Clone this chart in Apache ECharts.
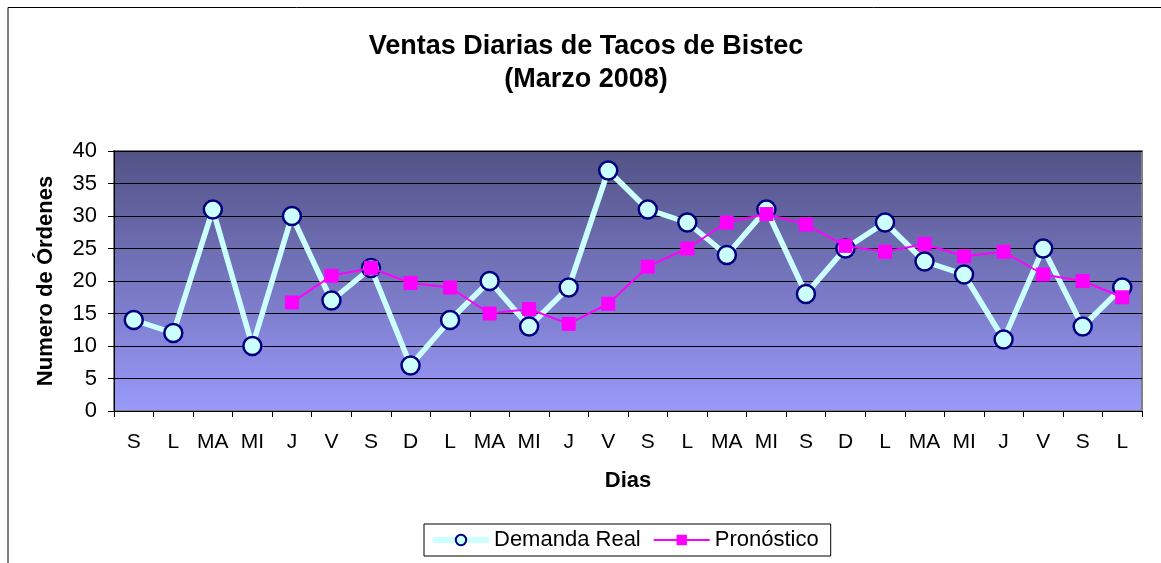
<!DOCTYPE html>
<html>
<head>
<meta charset="utf-8">
<script src="https://cdn.jsdelivr.net/npm/echarts@6/dist/echarts.min.js"></script>
<style>
	html, body { margin: 0; padding: 0; background: #fff; }
	#chart { width: 1161px; height: 563px; }
</style>
</head>
<body>
<div id="chart"></div>
<script>
// dias de marzo 2008
var dias = ['S', 'L', 'MA', 'MI', 'J', 'V', 'S', 'D', 'L', 'MA', 'MI', 'J', 'V', 'S', 'L', 'MA', 'MI', 'S', 'D', 'L', 'MA', 'MI', 'J', 'V', 'S', 'L'];
var demandaReal = [14, 12, 31, 10, 30, 17, 22, 7, 14, 20, 13, 19, 37, 31, 29, 24, 31, 18, 25, 29, 23, 21, 11, 25, 13, 19];
var pronostico = ['-', '-', '-', '-', 16.7, 20.8, 22, 19.7, 19, 15, 15.7, 13.4, 16.5, 22.2, 25, 29, 30.3, 28.7, 25.4, 24.5, 25.7, 23.8, 24.5, 21, 20, 17.5];
var yTicks = [0, 5, 10, 15, 20, 25, 30, 35, 40];

var fuente = '"Liberation Sans", Arial, sans-serif';
var chart = echarts.init(document.getElementById('chart'));

var option = {
	backgroundColor: '#fff',
	textStyle: { fontFamily: fuente },
	title: {
		text: 'Ventas Diarias de Tacos de Bistec\n(Marzo 2008)',
		left: 581,
		top: 25,
		textAlign: 'center',
		textStyle: {
			fontFamily: fuente,
			fontSize: 27,
			fontWeight: 'bold',
			color: '#000',
			lineHeight: 33
		}
	},
	graphic: [{
		type: 'polyline',
		shape: { points: [[8, 600], [8, 7.5], [1200, 7.5]] },
		style: { stroke: '#000', lineWidth: 1, fill: null },
		silent: true
	}],
	legend: {
		bottom: 7,
		left: 424,
		itemGap: 12,
		itemWidth: 56,
		itemHeight: 13,
		padding: [5, 12, 5, 6],
		borderColor: '#000',
		borderWidth: 1,
		borderRadius: 0,
		textStyle: { fontFamily: fuente, fontSize: 22, color: '#000' },
		data: [
			{ name: 'Demanda Real', lineStyle: { color: '#ccffff', width: 6 } },
			{ name: 'Pronóstico', lineStyle: { color: '#ff00ff', width: 2 } }
		]
	},
	grid: {
		left: 114,
		right: 19,
		top: 151,
		bottom: 152,
		show: true,
		borderColor: '#808080',
		borderWidth: 2,
		backgroundColor: new echarts.graphic.LinearGradient(0, 0, 0, 1, [
			{ offset: 0, color: '#525285' },
			{ offset: 1, color: '#9a9afc' }
		])
	},
	xAxis: {
		type: 'category',
		data: dias,
		boundaryGap: true,
		name: 'Dias',
		nameLocation: 'middle',
		nameGap: 59,
		nameTextStyle: { fontFamily: fuente, fontSize: 22, fontWeight: 'bold', color: '#000' },
		axisLine: { lineStyle: { color: '#000', width: 1 } },
		axisTick: { show: true, length: 6, lineStyle: { color: '#000' }, alignWithLabel: false },
		axisLabel: { fontFamily: fuente, fontSize: 21, color: '#000', margin: 21, interval: 0 }
	},
	yAxis: {
		type: 'value',
		min: yTicks[0],
		max: yTicks[yTicks.length - 1],
		interval: 5,
		name: 'Numero de Órdenes',
		nameLocation: 'middle',
		nameGap: 57,
		nameTextStyle: { fontFamily: fuente, fontSize: 22, fontWeight: 'bold', color: '#000' },
		axisLine: { show: true, lineStyle: { color: '#000', width: 1 } },
		axisTick: { show: true, length: 6, lineStyle: { color: '#000' } },
		axisLabel: { fontFamily: fuente, fontSize: 22, color: '#000', margin: 17 },
		splitLine: { show: true, lineStyle: { color: '#000', width: 1 } }
	},
	series: [
		{
			name: 'Demanda Real',
			type: 'line',
			data: demandaReal,
			symbol: 'circle',
			symbolSize: 18,
			lineStyle: { color: '#ccffff', width: 5.5 },
			itemStyle: { color: '#ccffff', borderColor: '#000080', borderWidth: 2.5 },
			z: 3
		},
		{
			name: 'Pronóstico',
			type: 'line',
			data: pronostico,
			symbol: 'rect',
			symbolSize: 14,
			lineStyle: { color: '#ff00ff', width: 2 },
			itemStyle: { color: '#ff00ff', borderWidth: 0 },
			z: 4
		}
	],
	animation: false
};

chart.setOption(option);
window.onresize = chart.resize;
</script>
</body>
</html>
